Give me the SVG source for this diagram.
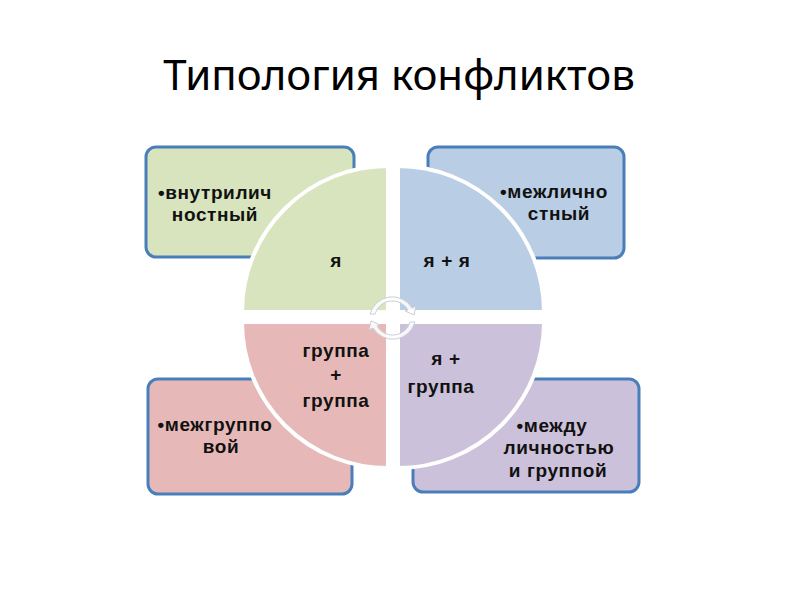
<svg xmlns="http://www.w3.org/2000/svg" width="800" height="600" viewBox="0 0 800 600">
<defs>
<style>
.title{font-family:"Noto Sans","Liberation Sans",sans-serif;font-size:42px;fill:#000}
.box{stroke:#4a7ebb;stroke-width:3}
.q{stroke:#fff;stroke-width:4}
.t{font-family:"Liberation Sans",Arial,sans-serif;font-size:19px;font-weight:bold;fill:#111;text-anchor:middle;letter-spacing:0.6px}
.g{fill:#d7e4bd}.b{fill:#b9cde5}.r{fill:#e6b9b8}.v{fill:#ccc1da}
.arr{fill:#ffffff;fill-opacity:0.85;stroke:#c9ced8;stroke-width:1;stroke-linejoin:round}
</style>
</defs>
<rect width="800" height="600" fill="#fff"/>
<text class="title" x="399" y="90" text-anchor="middle">Типология конфликтов</text>

<g id="box-intra"><rect class="box g" x="146" y="147" width="208" height="110" rx="10"/>
<text class="t" x="215" y="199">•внутрилич</text><text class="t" x="215" y="221">ностный</text></g>
<g id="box-inter"><rect class="box b" x="428" y="147" width="196" height="111" rx="10"/>
<text class="t" x="554" y="198">•межлично</text><text class="t" x="559" y="220">стный</text></g>
<g id="box-group"><rect class="box r" x="148" y="379" width="204" height="115" rx="10"/>
<text class="t" x="215" y="431">•межгруппо</text><text class="t" x="221" y="453">вой</text></g>
<g id="box-persgroup"><rect class="box v" x="413" y="379" width="226" height="113" rx="10"/>
<text class="t" x="552" y="432">•между</text><text class="t" x="559" y="454">личностью</text><text class="t" x="558" y="477">и группой</text></g>

<g id="q-self"><path class="q g" d="M388,312 L242,312 A146,146 0 0 1 388,166 Z"/>
<text class="t" x="336" y="267">я</text></g>
<g id="q-selfself"><path class="q b" d="M398,312 L398,166 A146,146 0 0 1 544,312 Z"/>
<text class="t" x="447" y="267">я + я</text></g>
<g id="q-groupgroup"><path class="q r" d="M388,322 L388,468 A146,146 0 0 1 242,322 Z"/>
<text class="t" x="336" y="357">группа</text><text class="t" x="336" y="381">+</text><text class="t" x="336" y="407">группа</text></g>
<g id="q-selfgroup"><path class="q v" d="M398,322 L544,322 A146,146 0 0 1 398,468 Z"/>
<text class="t" x="446" y="365">я +</text><text class="t" x="441" y="393">группа</text></g>

<g id="connectors">
<path class="arr" d="M370,314 A23,23 0 0 1 412,308 L416,306 L414,315 L405,311 L408,310 A18,18 0 0 0 375,314 Z"/>
<path class="arr" d="M415,322 A23,23 0 0 1 373,328 L369,330 L371,321 L380,325 L377,326 A18,18 0 0 0 410,322 Z"/>
</g>
</svg>
